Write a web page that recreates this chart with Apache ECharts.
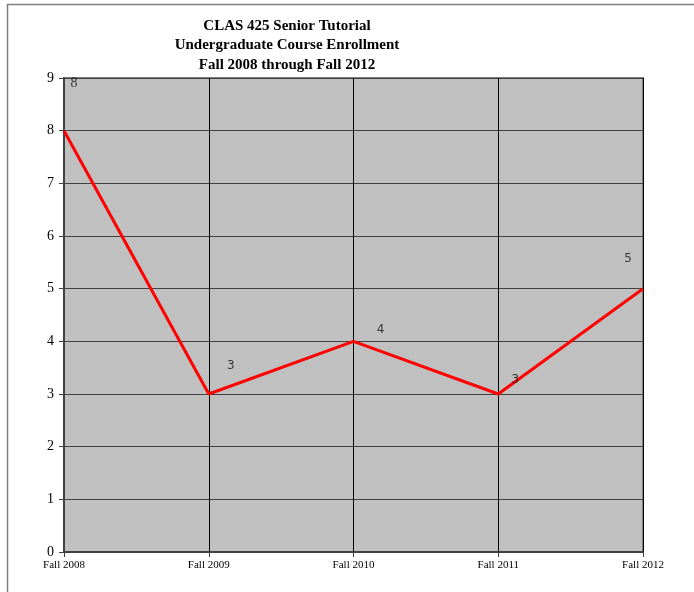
<!DOCTYPE html>
<html><head><meta charset="utf-8">
<script src="https://cdn.jsdelivr.net/npm/echarts@6/dist/echarts.min.js"></script>
<style>html,body{margin:0;padding:0;background:#fff}#c{width:694px;height:592px}</style>
</head><body><div id="c"></div>
<script>
const categories = ['Fall 2008','Fall 2009','Fall 2010','Fall 2011','Fall 2012'];
const enrollment = [8, 3, 4, 3, 5];
const yTicks = [0,1,2,3,4,5,6,7,8,9];

const labelOffsets = [[10,-47],[22,-28],[27,-11],[17,-14],[-15,-30]];
const chart = echarts.init(document.getElementById('c'));
const font = '"Liberation Serif", "Times New Roman", serif';
const sans = '"DejaVu Sans", sans-serif';
chart.setOption({
  animation: false,
  title: {
    text: 'CLAS 425 Senior Tutorial\nUndergraduate Course Enrollment\nFall 2008 through Fall 2012',
    left: 282, top: 11, textAlign: 'center',
    textStyle: {fontFamily: font, fontSize: 15, fontWeight: 'bold', color: '#000', lineHeight: 19.5}
  },
  graphic: [{type:'rect', shape:{x:7.5,y:4.5,width:700,height:600}, style:{fill:'none', stroke:'#808080', lineWidth:1.5}, silent:true}],
  grid: {left: 64, right: 51, top: 78, bottom: 40, show: true, backgroundColor: '#C0C0C0', borderColor: '#808080', borderWidth: 2},
  xAxis: {
    type: 'category', data: categories, boundaryGap: false,
    axisLine: {lineStyle: {color: '#404040', width: 2}},
    axisTick: {show: true, length: 5, lineStyle: {color: '#404040'}},
    axisLabel: {fontFamily: font, fontSize: 11, color: '#000', margin: 8},
    splitLine: {show: true, lineStyle: {color: '#000', width: 1}}
  },
  yAxis: {
    type: 'value', min: yTicks[0], max: yTicks[yTicks.length-1], interval: 1,
    axisLine: {show: true, lineStyle: {color: '#404040', width: 2}},
    axisTick: {show: true, length: 5, lineStyle: {color: '#404040'}},
    axisLabel: {fontFamily: font, fontSize: 14, color: '#000', margin: 10},
    splitLine: {show: true, lineStyle: {color: '#404040', width: 1}}
  },
  series: [{
    type: 'line',
    data: enrollment,
    symbol: 'none',
    lineStyle: {color: '#FF0000', width: 3},
    z: 2
  }, {
    type: 'scatter',
    data: enrollment.map((v,i)=>({value:v, label:{offset: labelOffsets[i],
      fontFamily: i === 0 ? font : sans, fontSize: i === 0 ? 14 : 12}})),
    symbol: 'circle', symbolSize: 2,
    itemStyle: {color: 'rgba(0,0,0,0)'},
    label: {show: true, position: 'inside', color: '#111'},
    z: 3
  }]
});
</script></body></html>
